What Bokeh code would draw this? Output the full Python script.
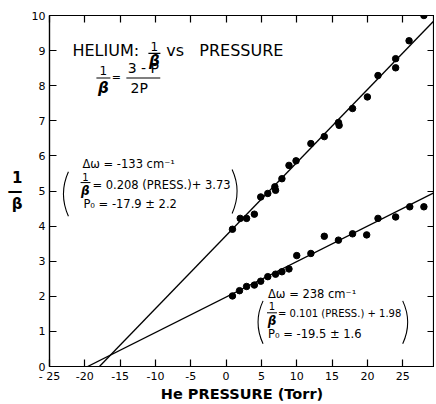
from bokeh.plotting import figure
from bokeh.models import Label, LinearAxis, FixedTicker, Range1d, Arrow
from bokeh.core.properties import value
from bokeh.embed import file_html
from bokeh.resources import INLINE

# ---- data ----
upper_p = [0.9, 2.0, 2.9, 4.0, 4.9, 5.9, 6.9, 7.0, 7.9, 8.9, 9.9, 12.0, 13.9,
           15.9, 16.0, 17.9, 20.0, 21.5, 24.0, 24.0, 25.9, 28.0]
upper_inv_beta = [3.91, 4.22, 4.22, 4.34, 4.83, 4.93, 5.12, 5.02, 5.35, 5.73, 5.86,
                  6.35, 6.55, 6.95, 6.87, 7.35, 7.68, 8.29, 8.77, 8.51, 9.28, 10.0]
lower_p = [0.9, 1.9, 2.9, 4.0, 4.9, 5.9, 7.0, 7.9, 8.9, 10.0, 12.0, 13.9, 15.9,
           17.9, 19.9, 21.5, 24.0, 26.0, 28.0]
lower_inv_beta = [2.01, 2.16, 2.28, 2.32, 2.43, 2.56, 2.63, 2.70, 2.78, 3.16, 3.22,
                  3.71, 3.60, 3.78, 3.75, 4.22, 4.26, 4.55, 4.55]
fit_slopes = [0.208, 0.101]
fit_intercepts = [3.73, 1.98]
x_ticks = [-25, -20, -15, -10, -5, 0, 5, 10, 15, 20, 25]
x_tick_labels = ["- 25", "-20", "-15", "-10", "-5", "0", "5", "10", "15", "20", "25"]
y_ticks = [0, 1, 2, 3, 4, 5, 6, 7, 8, 9, 10]

FONT = "DejaVu Sans"
X_END = 29.5
NB = "\u00a0"

p = figure(width=434, height=404, x_range=Range1d(-25, X_END), y_range=Range1d(0, 10),
           output_backend="svg", toolbar_location=None,
           min_border_left=49, min_border_right=0, min_border_top=15, min_border_bottom=36,
           x_axis_label="He PRESSURE (Torr)", y_axis_label="1\n—\nβ")
p.grid.visible = False
p.outline_line_color = "black"
p.outline_line_width = 1.2
p.background_fill_color = "white"
p.border_fill_color = "white"


def style_axis(ax, ticks, show_labels=True):
    ax.ticker = FixedTicker(ticks=ticks)
    ax.major_tick_in = 7
    ax.major_tick_out = 0
    ax.minor_tick_line_color = None
    ax.axis_line_color = "black"
    ax.axis_line_width = 1.2
    ax.major_tick_line_color = "black"
    ax.major_tick_line_width = 1.2
    ax.major_label_text_font = FONT
    ax.major_label_text_color = "black"
    ax.major_label_text_font_size = "11px" if show_labels else "0px"
    ax.major_label_standoff = 3 if show_labels else 0


style_axis(p.xaxis[0], x_ticks)
style_axis(p.yaxis[0], y_ticks)
p.xaxis[0].major_label_overrides = {t: s for t, s in zip(x_ticks, x_tick_labels)}
p.xaxis[0].axis_label_text_font = FONT
p.xaxis[0].axis_label_text_font_style = "bold"
p.xaxis[0].axis_label_text_font_size = "14.5px"
p.xaxis[0].axis_label_text_color = "black"
p.xaxis[0].axis_label_standoff = 0

yax = p.yaxis[0]
yax.axis_label_orientation = "horizontal"
yax.axis_label_text_font = FONT
yax.axis_label_text_font_style = "bold"
yax.axis_label_text_font_size = "15px"
yax.axis_label_text_line_height = 0.7
yax.axis_label_text_color = "black"
yax.axis_label_standoff = 6
yax.major_label_standoff = 4

top_ax = LinearAxis()
style_axis(top_ax, x_ticks, show_labels=False)
p.add_layout(top_ax, "above")
right_ax = LinearAxis()
style_axis(right_ax, y_ticks, show_labels=False)
p.add_layout(right_ax, "right")

# fit lines, from their zero crossing to the right edge
for m, b in zip(fit_slopes, fit_intercepts):
    x0 = -b / m
    p.line([x0, X_END], [0, m * X_END + b], line_color="black", line_width=1.3)

p.scatter(upper_p, upper_inv_beta, size=6.5, color="black")
p.scatter(lower_p, lower_inv_beta, size=6.5, color="black")


def lab(x, y, text, size="11.5px", align="left", style="normal"):
    p.add_layout(Label(x=x, y=y, text=text, text_font=FONT, text_font_size=size,
                       text_align=align, text_baseline="middle", text_color="black",
                       text_font_style=style))


def bar(x0, x1, y, w=1.2):
    p.add_layout(Arrow(x_start=x0, y_start=y, x_end=x1, y_end=y, start=None, end=None,
                       line_color="black", line_width=w))


# title block
lab(-21.75, 9.0, "HELIUM:", "16px")
lab(-10.17, 9.12, "1", "12px", "center")
bar(-11.0, -9.3, 8.92)
lab(-10.17, 8.70, "β", "15px", "center", "bold italic")
lab(-8.47, 9.0, "vs" + NB * 3 + "PRESSURE", "16px")

lab(-17.37, 8.44, "1", "12px", "center")
bar(-18.36, -16.38, 8.22)
lab(-17.37, 7.93, "β", "15px", "center", "bold italic")
lab(-15.54, 8.22, "=", "11px", "center")
lab(-11.72, 8.50, "3 - P", "14px", "center")
bar(-14.12, -9.32, 8.22)
lab(-12.29, 7.93, "2P", "14px", "center")

# upper annotation
lab(-20.34, 5.78, "Δω = -133 cm⁻¹", "11.5px")
lab(-19.92, 5.40, "1", "10px", "center")
bar(-20.6, -19.2, 5.24, 1.0)
lab(-19.92, 4.99, "β", "12px", "center", "bold italic")
lab(-18.93, 5.18, "= 0.208 (PRESS.)+ 3.73", "11.5px")
lab(-20.2, 4.62, "P₀ = -17.9 ± 2.2", "11.5px")
p.quadratic(x0=[-22.32], y0=[5.55], x1=[-22.32], y1=[4.28], cx=[-23.73], cy=[4.92],
            line_color="black", line_width=1.1)
p.quadratic(x0=[0.85], y0=[5.61], x1=[0.85], y1=[4.36], cx=[2.26], cy=[4.99],
            line_color="black", line_width=1.1)

# lower annotation
lab(5.93, 2.07, "Δω = 238 cm⁻¹", "11.5px")
lab(6.50, 1.72, "1", "10px", "center")
bar(5.79, 7.20, 1.53, 1.0)
lab(6.50, 1.30, "β", "12px", "center", "bold italic")
lab(7.34, 1.50, "= 0.101 (PRESS.) + 1.98", "10px")
lab(5.93, 0.93, "P₀ = -19.5 ± 1.6", "11.5px")
p.quadratic(x0=[5.23], y0=[1.87], x1=[5.23], y1=[0.65], cx=[3.81], cy=[1.26],
            line_color="black", line_width=1.1)
p.quadratic(x0=[25.0], y0=[1.87], x1=[25.0], y1=[0.65], cx=[26.41], cy=[1.26],
            line_color="black", line_width=1.1)

open("out.html", "w").write(file_html(p, INLINE))
